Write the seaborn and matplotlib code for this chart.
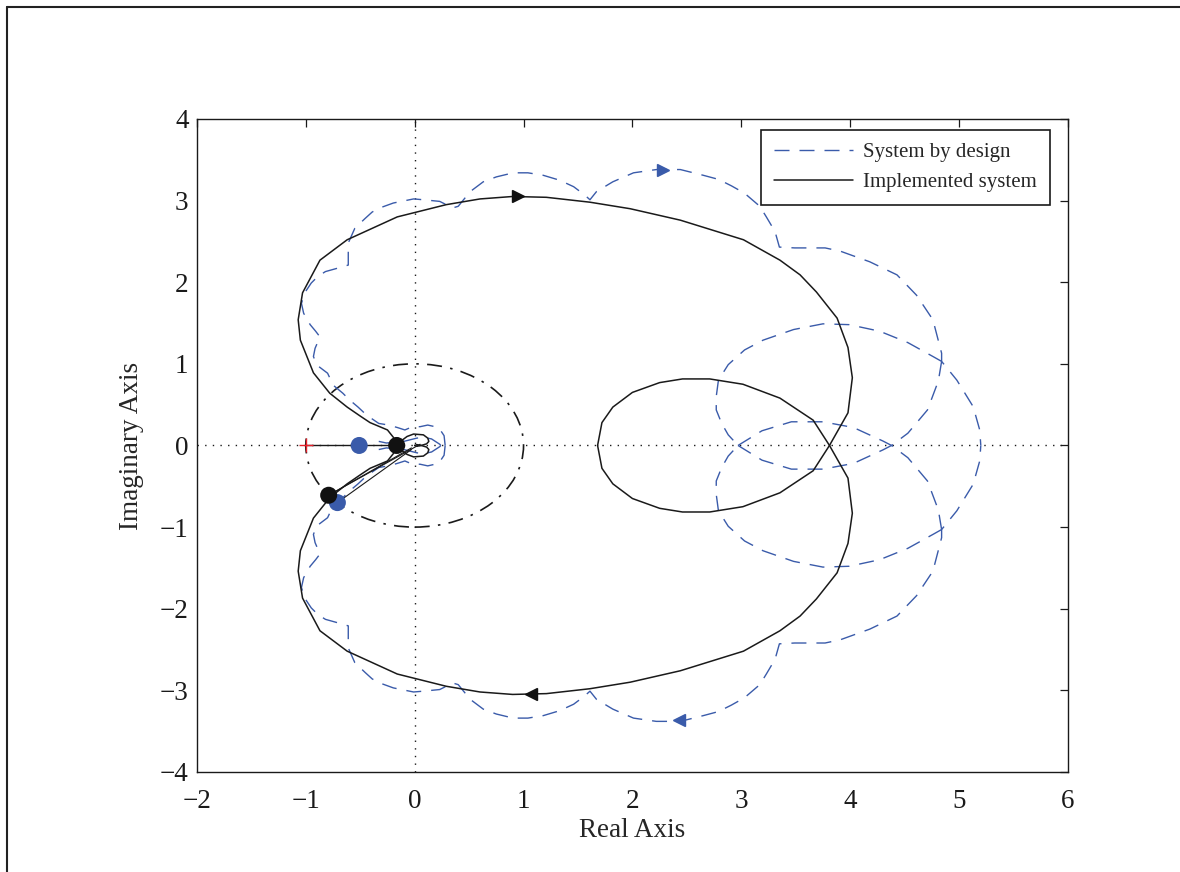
import matplotlib
matplotlib.use("Agg")
import matplotlib.pyplot as plt
import seaborn as sns
from matplotlib.lines import Line2D
from matplotlib.patches import Circle

# --- values (upper half; lower half is the mirror image) ---

# implemented system: inner loop, upper half, from x=1.68 to the crossing at 3.81
impl_inner_x = [1.68, 1.72, 1.82, 2.00, 2.25, 2.46, 2.71, 3.015, 3.355, 3.66, 3.81]
impl_inner_y = [0.0, 0.28, 0.47, 0.65, 0.77, 0.815, 0.815, 0.75, 0.58, 0.31, 0.0]

# implemented system: big outer arc, from the crossing at 3.81 round to the dot near -0.165
impl_outer_x = [3.81, 3.98, 4.02, 3.98, 3.88, 3.69, 3.54, 3.355, 3.02, 2.44, 1.98, 1.61,
                1.21, 0.90, 0.60, 0.29, -0.16, -0.62, -0.87, -1.03, -1.07, -1.05, -0.93,
                -0.78, -0.62, -0.50, -0.41, -0.25, -0.19, -0.165]
impl_outer_y = [0.0, 0.40, 0.83, 1.20, 1.56, 1.88, 2.09, 2.27, 2.52, 2.76, 2.90, 2.98,
                3.04, 3.05, 3.02, 2.95, 2.80, 2.52, 2.27, 1.87, 1.54, 1.29, 0.89,
                0.64, 0.47, 0.36, 0.28, 0.19, 0.09, 0.0]

# implemented system: small petal near the origin
impl_small_x = [-0.165, -0.12, -0.07, -0.01, 0.08, 0.12, 0.13, 0.11, 0.06, 0.02, 0.0]
impl_small_y = [0.0, 0.06, 0.11, 0.14, 0.13, 0.09, 0.05, 0.02, 0.0, -0.01, 0.0]

# system by design: main scalloped arc from near the origin to the cusp at (4.84, 1.03)
design_main = [(0.28, 0.0), (0.27, 0.12), (0.22, 0.22), (0.12, 0.25), (0.05, 0.23),
               (-0.02, 0.23), (-0.09, 0.19), (-0.16, 0.22), (-0.24, 0.25), (-0.33, 0.27),
               (-0.44, 0.37), (-0.52, 0.47), (-0.60, 0.56), (-0.66, 0.64), (-0.75, 0.74),
               (-0.77, 0.80), (-0.80, 0.885), (-0.90, 0.986), (-0.93, 1.09), (-0.915, 1.19),
               (-0.87, 1.33), (-0.91, 1.40), (-0.96, 1.48), (-1.02, 1.62), (-1.04, 1.74),
               (-1.01, 1.87), (-0.95, 1.99), (-0.89, 2.07), (-0.82, 2.13), (-0.686, 2.18),
               (-0.61, 2.21), (-0.61, 2.48), (-0.55, 2.66), (-0.456, 2.78), (-0.39, 2.86),
               (-0.32, 2.91), (-0.196, 2.97), (-0.01, 3.02), (0.08, 3.01), (0.23, 2.99),
               (0.35, 2.91), (0.40, 2.93), (0.51, 3.11), (0.63, 3.23), (0.75, 3.29),
               (0.905, 3.34), (1.04, 3.34), (1.18, 3.31), (1.33, 3.25), (1.46, 3.17),
               (1.56, 3.07), (1.61, 3.01), (1.67, 3.11), (1.82, 3.23), (2.01, 3.34),
               (2.22, 3.38), (2.44, 3.38), (2.65, 3.31), (2.79, 3.26), (2.91, 3.18),
               (3.03, 3.09), (3.17, 2.93), (3.23, 2.80), (3.31, 2.62), (3.35, 2.43),
               (3.49, 2.42), (3.61, 2.42), (3.77, 2.42), (3.91, 2.38), (4.18, 2.25),
               (4.43, 2.09), (4.61, 1.84), (4.76, 1.54), (4.84, 1.13), (4.84, 1.03),
               (4.98, 0.80), (5.13, 0.475), (5.19, 0.19), (5.20, 0.0)]

# system by design: inner pieces near the origin
design_origin = [(-0.33, 0.05), (-0.26, 0.03), (-0.18, 0.04), (-0.10, 0.05), (-0.04, 0.07),
                 (0.02, 0.09), (0.08, 0.10), (0.155, 0.08), (0.23, 0.015), (0.24, 0.0)]

# system by design: branch from the cusp down to (4.38, 0)
design_cusp = [(4.84, 1.03), (4.81, 0.79), (4.71, 0.435), (4.53, 0.15), (4.38, 0.0)]

# system by design: large loop on the right
design_loop = [(4.84, 1.03), (4.76, 1.09), (4.53, 1.26), (4.27, 1.40), (3.99, 1.48),
               (3.75, 1.49), (3.48, 1.42), (3.20, 1.29), (3.03, 1.17), (2.88, 0.99),
               (2.79, 0.80), (2.77, 0.60), (2.77, 0.435), (2.82, 0.27), (2.88, 0.13),
               (2.97, 0.0)]

# system by design: small inner ellipse
design_small = [(2.97, 0.0), (3.19, 0.18), (3.46, 0.29), (3.75, 0.29), (4.03, 0.22),
                (4.30, 0.055), (4.38, 0.0)]

# margin points
impl_dots_x = [-0.165, -0.79]
impl_dots_y = [0.0, -0.61]
design_dots_x = [-0.51, -0.71]
design_dots_y = [0.0, -0.70]

# lines from the unit-circle crossings to the origin
margin_lines = [[(-0.79, -0.61), (0.05, 0.015)],
                [(-0.79, -0.61), (-0.03, -0.03)],
                [(-0.71, -0.70), (-0.03, -0.05)]]

# direction arrows
impl_arrows = [(0.95, 3.05, '>'), (1.07, -3.05, '<')]
design_arrows = [(2.28, 3.38, '>'), (2.43, -3.36, '<')]

blue = '#3A5BAA'
dash = (0, (10.8, 7.2))

sns.set_theme(style='white')
plt.rcParams['font.family'] = ['Liberation Serif', 'DejaVu Serif']

fig = plt.figure(figsize=(11.8, 8.72), dpi=100)
ax = fig.add_axes([0.1669, 0.1147, 0.7381, 0.7489])


def draw(xs, ys, **kw):
    sns.lineplot(x=xs, y=ys, sort=False, estimator=None, ax=ax, **kw)
    sns.lineplot(x=xs, y=[-v for v in ys], sort=False, estimator=None, ax=ax, **kw)


# design curve (dashed blue)
for seg in [design_main, design_origin, design_cusp, design_loop, design_small]:
    xs = [p[0] for p in seg]
    ys = [p[1] for p in seg]
    draw(xs, ys, color=blue, lw=1.0, linestyle=dash)

# implemented curve (solid black)
bx = impl_inner_x + impl_outer_x + impl_small_x
by = impl_inner_y + [-v for v in impl_outer_y] + impl_small_y
draw(bx, by, color='#1a1a1a', lw=1.1)

# unit circle and dotted axes
ax.add_patch(Circle((0, 0), 1, fill=False, ec='k', lw=1.2, ls=(0, (9, 5, 1.5, 5))))
ax.axhline(0, color='k', lw=1.0, ls=(0, (1, 4.5)), zorder=1)
ax.axvline(0, color='k', lw=1.0, ls=(0, (1, 4.5)), zorder=1)

# margin lines
ax.plot([-1, impl_dots_x[0]], [0, 0], color='k', lw=1.0)
for (p0, p1) in margin_lines:
    ax.plot([p0[0], p1[0]], [p0[1], p1[1]], color='k', lw=0.8)

ax.plot([-1], [0], marker='+', color='#e8202a', ms=10, mew=1.0, ls='none')
sns.scatterplot(x=design_dots_x, y=design_dots_y, color=blue, s=150, edgecolor='none', ax=ax, zorder=4)
sns.scatterplot(x=impl_dots_x, y=impl_dots_y, color='#111111', s=150, edgecolor='none', ax=ax, zorder=5)

for x, y, m in impl_arrows:
    ax.plot([x], [y], marker=m, color='#111111', ms=9, ls='none')
for x, y, m in design_arrows:
    ax.plot([x], [y], marker=m, color=blue, ms=9, ls='none')

ax.set_xlim(-2, 6)
ax.set_ylim(-4, 4)
ax.set_xticks(range(-2, 7))
ax.set_yticks(range(-4, 5))
ax.tick_params(direction='in', length=6, width=0.9, top=True, right=True,
               labelsize=19.5, colors='k')
ax.tick_params(axis='x', pad=12)
ax.tick_params(axis='y', pad=6)
for s in ax.spines.values():
    s.set_color('k')
    s.set_linewidth(1.0)
ax.set_xlabel('Real Axis', fontsize=19.5, labelpad=3)
ax.set_ylabel('Imaginary Axis', fontsize=19.5, labelpad=11)

handles = [Line2D([], [], color=blue, lw=1.0, ls=dash),
           Line2D([], [], color='#1a1a1a', lw=1.1)]
leg = ax.legend(handles, ['System by design', 'Implemented system'], loc='upper right',
                bbox_to_anchor=(0.979, 0.983), borderaxespad=0, fancybox=False,
                edgecolor='k', framealpha=1, fontsize=15, handlelength=3.8,
                handletextpad=0.5, labelspacing=0.5, borderpad=0.6)
leg.get_frame().set_linewidth(1.2)

# outer frame (only left/top visible in the source)
fig.add_artist(Line2D([0.006, 0.006], [0, 0.992], color='#222222', lw=1.5))
fig.add_artist(Line2D([0.006, 1], [0.992, 0.992], color='#222222', lw=1.5))

fig.savefig('out.png', dpi=100)
